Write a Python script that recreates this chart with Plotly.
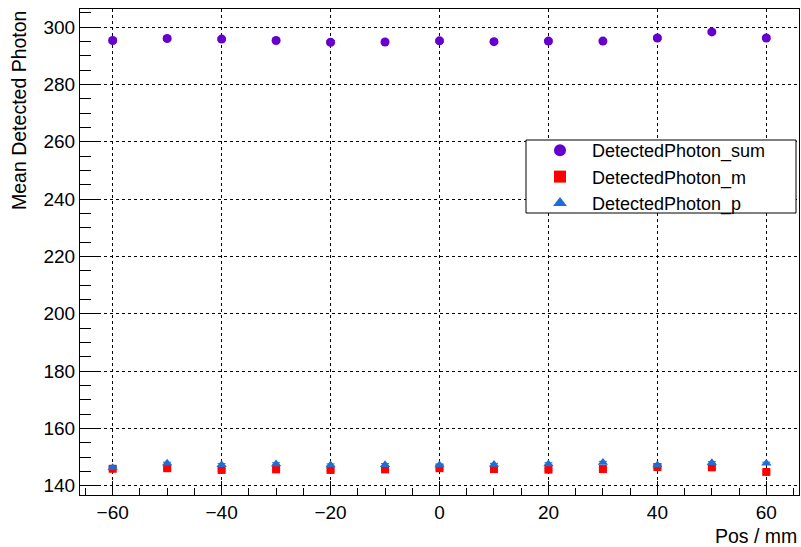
import plotly.graph_objects as go

pos = [-60, -50, -40, -30, -20, -10, 0, 10, 20, 30, 40, 50, 60]
photon_sum = [295.3, 296.0, 295.8, 295.3, 294.7, 294.8, 295.2, 294.9, 295.1, 295.1, 296.2, 298.3, 296.2]
photon_m = [145.9, 146.1, 145.5, 145.7, 145.5, 145.7, 146.1, 145.8, 145.6, 145.8, 146.5, 146.4, 144.8]
photon_p = [146.3, 147.8, 147.3, 147.6, 147.2, 147.3, 147.2, 147.4, 147.6, 148.1, 147.2, 148.0, 147.8]
err_sum = [0.6] * len(pos)
err_m = [0.4] * len(pos)
err_p = [0.4] * len(pos)

FONT = "Liberation Sans, Arial, sans-serif"

W, H = 801, 547
ML, MR, MT, MB = 80, 2, 9, 52
PW, PH = W - ML - MR, H - MT - MB


def px_x(x):
    return (x - ML) / PW


def px_y(y):
    return (H - MB - y) / PH


fig = go.Figure()
series = [
    ("DetectedPhoton_sum", photon_sum, err_sum, "circle", "#6600cc", 9),
    ("DetectedPhoton_m", photon_m, err_m, "square", "#ff0000", 8),
    ("DetectedPhoton_p", photon_p, err_p, "triangle-up", "#1f6fd1", 9),
]
for name, vals, errs, sym, col, sz in series:
    fig.add_trace(go.Scatter(
        x=pos, y=vals, mode="markers", name=name,
        marker=dict(symbol=sym, color=col, size=sz, line=dict(width=0)),
        error_y=dict(type="data", array=errs, color=col, thickness=1, width=4),
    ))

axis_common = dict(
    showline=True, linecolor="black", linewidth=1, mirror=True,
    ticks="inside", tickcolor="black", tickwidth=1,
    showgrid=True, gridcolor="black", griddash="dot", gridwidth=1,
    zeroline=False,
    tickfont=dict(family=FONT, size=19, color="black"),
)

fig.update_xaxes(
    range=[-66, 66], tickmode="linear", tick0=-60, dtick=20, ticklen=14,
    minor=dict(ticks="inside", dtick=5, tick0=-60, ticklen=7, tickcolor="black", showgrid=False),
    **axis_common,
)
fig.update_yaxes(
    range=[136.75, 306.3], tickmode="linear", tick0=140, dtick=20, ticklen=21,
    minor=dict(ticks="inside", dtick=5, tick0=140, ticklen=11, tickcolor="black", showgrid=False),
    **axis_common,
)

fig.update_layout(
    width=W, height=H,
    margin=dict(l=ML, r=MR, t=MT, b=MB, autoexpand=False),
    paper_bgcolor="white", plot_bgcolor="white",
    showlegend=True,
    legend=dict(
        x=px_x(528), y=px_y(132), xanchor="left", yanchor="top",
        bgcolor="rgba(0,0,0,0)", borderwidth=0,
        font=dict(family=FONT, size=18, color="black"),
        itemwidth=54, tracegroupgap=0, itemsizing="constant",
    ),
    shapes=[
        dict(type="rect", xref="paper", yref="paper",
             x0=px_x(526), x1=px_x(796), y0=px_y(213), y1=px_y(140),
             line=dict(color="black", width=1), fillcolor="white", layer="above"),
    ],
    annotations=[
        dict(text="Pos / mm", xref="paper", yref="paper", x=1.0, y=px_y(536),
             xanchor="right", yanchor="middle", showarrow=False,
             font=dict(family=FONT, size=19.5, color="black")),
        dict(text="Mean Detected Photon", xref="paper", yref="paper", x=px_x(18.5), y=1.0,
             xanchor="center", yanchor="top", textangle=-90, showarrow=False,
             font=dict(family=FONT, size=19.5, color="black")),
    ],
)

fig.write_html(
    "out.html",
    config={"displayModeBar": False},
    post_script="document.body.style.margin='0';document.body.style.overflow='hidden';",
)
